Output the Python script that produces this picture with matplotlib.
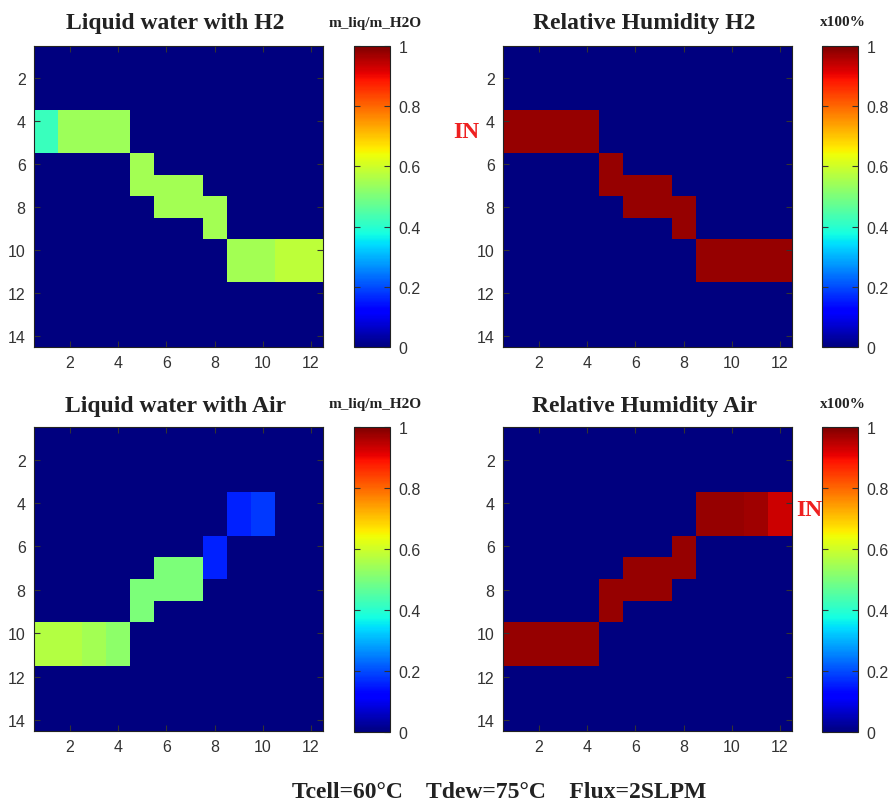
import numpy as np
import matplotlib
matplotlib.use("Agg")
import matplotlib.pyplot as plt

# ---- data (rows 1..14 top to bottom, columns 1..12) ----
n_rows, n_cols = 14, 12
z = [0.0] * 12

liq_h2 = [
    z, z, z,
    [0.42, 0.54, 0.54, 0.54, 0, 0, 0, 0, 0, 0, 0, 0],
    [0.42, 0.54, 0.54, 0.54, 0, 0, 0, 0, 0, 0, 0, 0],
    [0, 0, 0, 0, 0.55, 0, 0, 0, 0, 0, 0, 0],
    [0, 0, 0, 0, 0.55, 0.55, 0.55, 0, 0, 0, 0, 0],
    [0, 0, 0, 0, 0, 0.55, 0.55, 0.55, 0, 0, 0, 0],
    [0, 0, 0, 0, 0, 0, 0, 0.55, 0, 0, 0, 0],
    [0, 0, 0, 0, 0, 0, 0, 0, 0.55, 0.55, 0.58, 0.58],
    [0, 0, 0, 0, 0, 0, 0, 0, 0.55, 0.55, 0.58, 0.58],
    z, z, z,
]

rh_h2 = [
    z, z, z,
    [0.98, 0.98, 0.98, 0.98, 0, 0, 0, 0, 0, 0, 0, 0],
    [0.98, 0.98, 0.98, 0.98, 0, 0, 0, 0, 0, 0, 0, 0],
    [0, 0, 0, 0, 0.98, 0, 0, 0, 0, 0, 0, 0],
    [0, 0, 0, 0, 0.98, 0.98, 0.98, 0, 0, 0, 0, 0],
    [0, 0, 0, 0, 0, 0.98, 0.98, 0.98, 0, 0, 0, 0],
    [0, 0, 0, 0, 0, 0, 0, 0.98, 0, 0, 0, 0],
    [0, 0, 0, 0, 0, 0, 0, 0, 0.98, 0.98, 0.98, 0.98],
    [0, 0, 0, 0, 0, 0, 0, 0, 0.98, 0.98, 0.98, 0.98],
    z, z, z,
]

liq_air = [
    z, z, z,
    [0, 0, 0, 0, 0, 0, 0, 0, 0.16, 0.18, 0, 0],
    [0, 0, 0, 0, 0, 0, 0, 0, 0.16, 0.18, 0, 0],
    [0, 0, 0, 0, 0, 0, 0, 0.16, 0, 0, 0, 0],
    [0, 0, 0, 0, 0, 0.50, 0.50, 0.16, 0, 0, 0, 0],
    [0, 0, 0, 0, 0.50, 0.50, 0.50, 0, 0, 0, 0, 0],
    [0, 0, 0, 0, 0.50, 0, 0, 0, 0, 0, 0, 0],
    [0.57, 0.57, 0.55, 0.52, 0, 0, 0, 0, 0, 0, 0, 0],
    [0.57, 0.57, 0.55, 0.52, 0, 0, 0, 0, 0, 0, 0, 0],
    z, z, z,
]

rh_air = [
    z, z, z,
    [0, 0, 0, 0, 0, 0, 0, 0, 0.98, 0.98, 0.97, 0.93],
    [0, 0, 0, 0, 0, 0, 0, 0, 0.98, 0.98, 0.97, 0.93],
    [0, 0, 0, 0, 0, 0, 0, 0.98, 0, 0, 0, 0],
    [0, 0, 0, 0, 0, 0.98, 0.98, 0.98, 0, 0, 0, 0],
    [0, 0, 0, 0, 0.98, 0.98, 0.98, 0, 0, 0, 0, 0],
    [0, 0, 0, 0, 0.98, 0, 0, 0, 0, 0, 0, 0],
    [0.98, 0.98, 0.98, 0.98, 0, 0, 0, 0, 0, 0, 0, 0],
    [0.98, 0.98, 0.98, 0.98, 0, 0, 0, 0, 0, 0, 0, 0],
    z, z, z,
]

titles = ["Liquid water with H2", "Relative Humidity H2",
          "Liquid water with Air", "Relative Humidity Air"]
cbar_labels = ["m_liq/m_H2O", "x100%", "m_liq/m_H2O", "x100%"]
x_ticks = [2, 4, 6, 8, 10, 12]
y_ticks = [2, 4, 6, 8, 10, 12, 14]
cbar_ticks = [0, 0.2, 0.4, 0.6, 0.8, 1]
cbar_ticklabels = ["0", "0.2", "0.4", "0.6", "0.8", "1"]
footer = "Tcell=60°C    Tdew=75°C    Flux=2SLPM"

# ---- figure ----
W, H = 895, 803
fig = plt.figure(figsize=(W / 100, H / 100), dpi=100)
fig.patch.set_facecolor("white")

def rect(x0, y0, x1, y1):
    return [x0 / W, 1 - y1 / H, (x1 - x0) / W, (y1 - y0) / H]

# (data, axes box, colorbar box, title y, colorbar-label y) in pixels
panels = [
    (liq_h2, (34, 47, 323, 348), (354, 47, 390, 348), 23, 23),
    (rh_h2, (503, 47, 792, 348), (822, 47, 858, 348), 23, 23),
    (liq_air, (34, 428, 323, 732), (354, 428, 390, 733), 407, 405),
    (rh_air, (503, 428, 792, 732), (822, 428, 858, 733), 407, 405),
]

serif_bold = dict(family="Liberation Serif", weight="bold")
sans = "Liberation Sans"

for i, (data, ax_r, cb_r, ty, ly) in enumerate(panels):
    ax = fig.add_axes(rect(*ax_r))
    im = ax.imshow(np.array(data), cmap="jet", vmin=0, vmax=1,
                   extent=(0.5, n_cols + 0.5, n_rows + 0.5, 0.5),
                   aspect="auto", interpolation="nearest")
    ax.set_xticks(x_ticks)
    ax.set_yticks(y_ticks)
    ax.tick_params(direction="in", length=4, labelsize=11.5, pad=6,
                   top=True, right=True, colors="#333333")
    for lab in ax.get_xticklabels() + ax.get_yticklabels():
        lab.set_family(sans)
        lab.set_color("#333333")
    for sp in ax.spines.values():
        sp.set_color("#222222")
        sp.set_linewidth(0.8)
    tx = (ax_r[0] + ax_r[2]) / 2 - 3
    fig.text(tx / W, 1 - ty / H, titles[i], ha="center",
             va="center", fontsize=17, color="#222222", **serif_bold)

    cax = fig.add_axes(rect(*cb_r))
    cb = fig.colorbar(im, cax=cax, ticks=cbar_ticks)
    cb.ax.set_yticklabels(cbar_ticklabels)
    cb.ax.tick_params(direction="in", length=4, labelsize=11.5, pad=6,
                      left=True, right=True, colors="#333333")
    for lab in cb.ax.get_yticklabels():
        lab.set_family(sans)
        lab.set_color("#333333")
    cb.outline.set_edgecolor("#222222")
    cb.outline.set_linewidth(0.8)
    cx = (cb_r[0] + cb_r[2]) / 2 + 3
    fig.text(cx / W, 1 - ly / H, cbar_labels[i], ha="center",
             va="center", fontsize=11, color="#222222", **serif_bold)

# "IN" markers
fig.text(466 / W, 1 - 133 / H, "IN", ha="center", va="center",
         color="#ee2020", fontsize=17, **serif_bold)
fig.text(809 / W, 1 - 510 / H, "IN", ha="center", va="center",
         color="#ee2020", fontsize=17, **serif_bold)

fig.text(499 / W, 1 - 793 / H, footer, ha="center", va="center",
         fontsize=17, color="#222222", **serif_bold)

fig.savefig("out.png", dpi=100)
